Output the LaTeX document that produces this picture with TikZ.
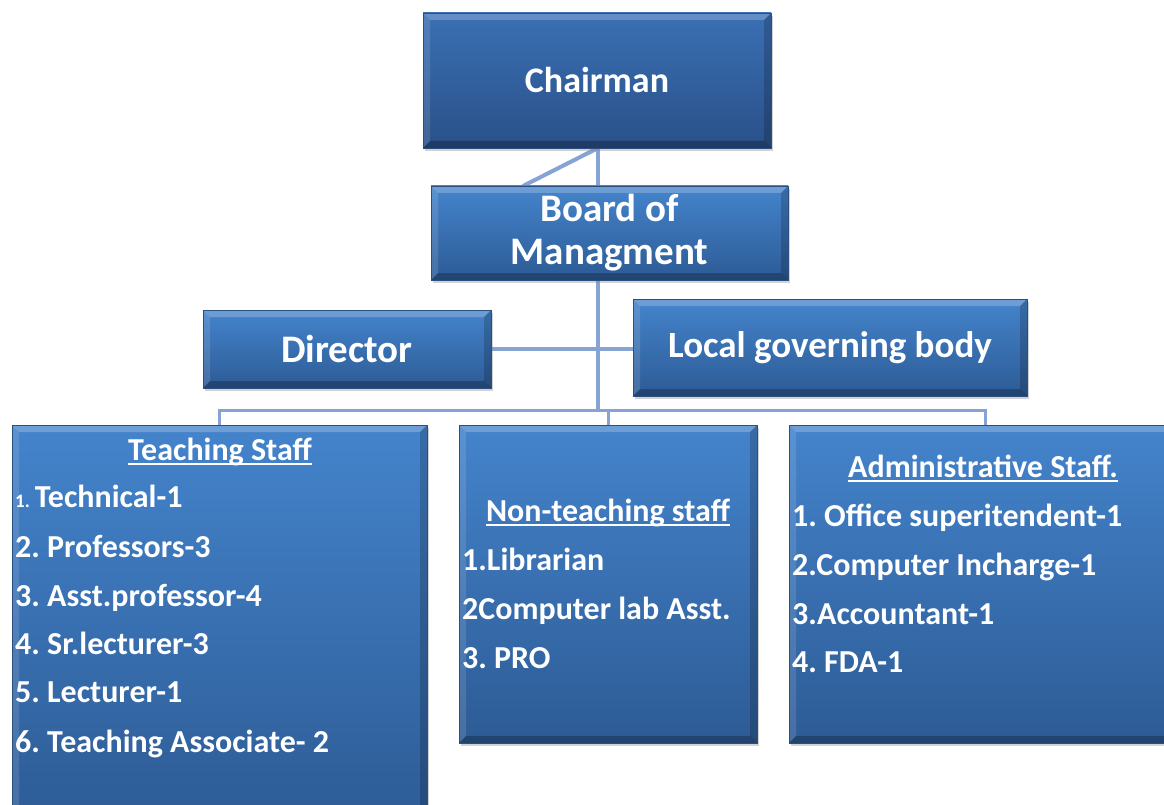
\documentclass[tikz,border=0pt]{standalone}
\usepackage{fontspec}
\setmainfont{Carlito}
\frenchspacing
\usetikzlibrary{shadows,calc}
\pgfdeclarelayer{background}
\pgfsetlayers{background,main}
\newcommand\myul[1]{\setbox0\hbox{#1}\rlap{\rule[-4.5pt]{\wd0}{1.8pt}}\box0}
\definecolor{boxtop}{HTML}{4484CC}
\definecolor{boxbot}{HTML}{2D5B95}
\definecolor{chtop}{HTML}{3A70B4}
\definecolor{chbot}{HTML}{2A5088}
\definecolor{boxedge}{HTML}{2A4F80}
\definecolor{linkc}{HTML}{86A3D3}
\tikzset{
  bevel/.style={path picture={
    \fill[white,opacity=.22] (path picture bounding box.north west) -- (path picture bounding box.north east)
      -- ([shift={(-7pt,-7pt)}]path picture bounding box.north east) -- ([shift={(7pt,-7pt)}]path picture bounding box.north west) -- cycle;
    \fill[white,opacity=.12] (path picture bounding box.north west) -- ([shift={(7pt,-7pt)}]path picture bounding box.north west)
      -- ([shift={(7pt,7pt)}]path picture bounding box.south west) -- (path picture bounding box.south west) -- cycle;
    \fill[black,opacity=.18] (path picture bounding box.north east) -- ([shift={(-7pt,-7pt)}]path picture bounding box.north east)
      -- ([shift={(-7pt,7pt)}]path picture bounding box.south east) -- (path picture bounding box.south east) -- cycle;
    \fill[black,opacity=.25] (path picture bounding box.south west) -- ([shift={(7pt,7pt)}]path picture bounding box.south west)
      -- ([shift={(-7pt,7pt)}]path picture bounding box.south east) -- (path picture bounding box.south east) -- cycle;
  }},
  orgbox/.style={draw=boxedge, line width=0.6pt, top color=boxtop, bottom color=boxbot,
    drop shadow={shadow xshift=2pt,shadow yshift=-3pt,opacity=0.35},
    bevel, inner sep=0pt, text=white, align=center,
    font=\bfseries\fontsize{36}{43}\selectfont},
  chairbox/.style={orgbox, top color=chtop, bottom color=chbot},
  head/.style={text=white, inner sep=0pt, anchor=base, font=\bfseries\fontsize{32}{36}\selectfont},
  item/.style={text=white, inner sep=0pt, anchor=base west, font=\bfseries\fontsize{32}{36}\selectfont},
  mainlink/.style={draw=linkc, line width=4.5pt},
  buslink/.style={draw=linkc, line width=3pt},
}
\begin{document}
\begin{tikzpicture}[x=1pt,y=-1pt]
\clip (0,0) rectangle (1164,805);

% boxes
\node[chairbox, minimum width=348pt, minimum height=135pt] (chair) at (597,80.5) {Chairman};
\node[orgbox, minimum width=357pt, minimum height=94pt, font=\bfseries\fontsize{39}{43}\selectfont] (bom) at (609.5,233) {Board of\\Managment};
\node[orgbox, minimum width=288pt, minimum height=78pt, font=\bfseries\fontsize{39}{43}\selectfont] (dir) at (347,349) {Director};
\node[orgbox, minimum width=394pt, minimum height=97pt, font=\bfseries\fontsize{37}{43}\selectfont] (lgb) at (830,347.5) {Local governing body};
\node[orgbox, minimum width=415pt, minimum height=400pt] (teach) at (219.5,625) {};
\node[orgbox, minimum width=298pt, minimum height=318pt] (non) at (608,584) {};
\node[orgbox, minimum width=392pt, minimum height=318pt] (admin) at (985,584) {};

% connectors
\coordinate (top) at (598,148);
\coordinate (diag) at (523,186);
\coordinate (bus) at (598,410);
\begin{pgfonlayer}{background}
  \fill[white] (0,0) rectangle (1164,805);
  \draw[mainlink] (top) -- (top |- bus);
  \draw[buslink, line width=4pt] (top) -- (diag);
  \draw[mainlink] (dir.east) -- (dir.east -| lgb.west);
  \draw[buslink] (teach.north) -- (teach.north |- bus) -- (admin.north |- bus) -- (admin.north);
  \draw[buslink] (non.north) -- (non.north |- bus);
\end{pgfonlayer}

% Teaching staff
\node[head] (th) at (220,460) {\myul{Teaching Staff}};
\node[item] (t1) at (15,507) {{\fontsize{19}{20}\selectfont 1.}\hspace{5pt}Technical-1};
\node[item] (t2) at (15,557) {2. Professors-3};
\node[item] (t3) at (15,606) {3. Asst.professor-4};
\node[item] (t4) at (15,654) {4. Sr.lecturer-3};
\node[item] (t5) at (15,702) {5. Lecturer-1};
\node[item] (t6) at (15,752) {6. Teaching Associate- 2};

% Non-teaching staff
\node[head] (nh) at (608,521) {\myul{Non-teaching staff}};
\node[item] (n1) at (462,570) {1.Librarian};
\node[item] (n2) at (462,619) {2Computer lab Asst.};
\node[item] (n3) at (462,668) {3. PRO};

% Administrative staff
\node[head] (ah) at (983,477) {\myul{Administrative Staff.}};
\node[item] (a1) at (792,526) {1. Office superitendent-1};
\node[item] (a2) at (792,575) {2.Computer Incharge-1};
\node[item] (a3) at (792,624) {3.Accountant-1};
\node[item] (a4) at (792,672) {4. FDA-1};
\end{tikzpicture}
\end{document}
